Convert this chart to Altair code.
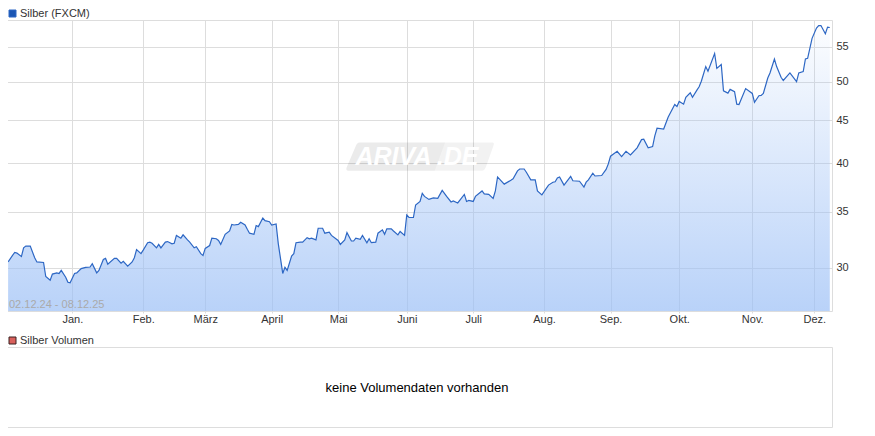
import json

import altair as alt
import pandas as pd

START_DATE = "2024-12-02"

# days since START_DATE and closing price
day_offsets = [
    0, 2, 3, 4, 6, 7, 8, 10, 12, 13, 16, 17, 19, 20, 22, 23, 24, 26, 27, 28,
    30, 31, 33, 35, 37, 38, 40, 41, 43, 44, 45, 48, 49, 51, 52, 54, 56, 57, 58, 60,
    61, 63, 64, 65, 67, 68, 69, 71, 72, 74, 75, 76, 78, 79, 81, 82, 84, 85, 87, 88,
    89, 91, 92, 94, 95, 96, 98, 100, 101, 102, 104, 105, 107, 108, 109, 111, 112, 113, 115, 116,
    118, 119, 121, 122, 124, 125, 126, 128, 129, 130, 132, 133, 135, 136, 137, 139, 140, 142, 143, 145,
    146, 149, 150, 152, 153, 155, 156, 157, 159, 160, 162, 163, 164, 166, 167, 169, 170, 171, 173, 174,
    176, 177, 179, 180, 181, 183, 184, 186, 187, 188, 190, 192, 194, 196, 198, 200, 201, 203, 206, 207,
    208, 210, 211, 214, 215, 217, 219, 220, 221, 224, 227, 228, 230, 231, 233, 234, 236, 238, 239, 241,
    244, 246, 247, 248, 249, 251, 254, 255, 258, 260, 261, 262, 264, 265, 268, 270, 271, 272, 275, 277,
    279, 281, 284, 286, 287, 289, 291, 292, 293, 296, 298, 301, 302, 303, 305, 306, 308, 309, 311, 312,
    313, 315, 316, 319, 320, 322, 323, 325, 326, 328, 329, 330, 333, 336, 337, 339, 340, 341, 343, 344,
    346, 347, 349, 350, 353, 356, 357, 359, 360, 361, 363, 365, 366, 367, 369, 370, 371,
]
prices = [
    30.5, 31.05, 31.3, 31.25, 30.95, 31.7, 31.85, 31.85, 30.85, 30.5, 30.45, 29.3, 29.0, 29.5, 29.6, 29.55, 29.8, 29.25, 28.85, 28.8,
    29.55, 29.6, 29.95, 30.05, 30.08, 30.35, 29.6, 29.8, 30.7, 30.8, 30.3, 30.8, 30.8, 30.4, 30.55, 30.15, 30.5, 30.85, 31.55, 31.2,
    31.5, 32.15, 32.2, 32.1, 31.7, 32.0, 31.7, 32.2, 32.25, 32.05, 32.1, 32.8, 32.55, 32.85, 32.4, 32.2, 31.7, 31.8, 31.2, 31.05,
    31.65, 31.9, 32.55, 32.5, 32.35, 32.0, 32.9, 33.2, 33.8, 33.75, 33.8, 34.0, 33.75, 33.35, 33.0, 32.9, 33.7, 33.6, 34.4, 34.15,
    34.05, 33.75, 33.85, 32.05, 29.55, 30.05, 29.8, 31.0, 31.2, 32.15, 32.2, 32.2, 32.6, 32.5, 32.55, 32.4, 33.45, 33.45, 33.0, 33.1,
    32.8, 32.35, 32.0, 32.4, 33.05, 32.3, 32.3, 32.55, 32.45, 32.8, 32.15, 32.5, 32.15, 32.2, 33.0, 33.3, 32.9, 33.4, 33.4, 33.2,
    32.85, 33.15, 32.8, 34.7, 34.45, 34.45, 35.65, 36.0, 36.8, 36.5, 36.2, 36.35, 36.3, 37.1, 36.5, 35.95, 36.05, 35.85, 36.7, 36.0,
    36.1, 36.0, 36.5, 37.05, 36.75, 36.7, 36.3, 37.05, 38.5, 37.75, 38.15, 38.3, 39.15, 39.35, 39.35, 39.0, 38.2, 38.2, 37.05, 36.65,
    37.65, 37.95, 38.0, 38.4, 38.5, 37.65, 38.55, 38.1, 38.05, 37.45, 37.95, 38.2, 38.9, 38.6, 38.65, 39.3, 39.9, 40.75, 41.3, 40.7,
    41.3, 40.9, 41.7, 42.65, 42.7, 41.7, 41.85, 43.1, 44.0, 43.9, 45.35, 46.95, 46.7, 47.35, 47.0, 47.9, 48.5, 47.9, 48.85, 49.3,
    50.05, 52.1, 51.45, 54.0, 51.85, 52.4, 48.75, 48.45, 48.95, 48.65, 47.0, 46.95, 49.05, 48.4, 47.25, 48.1, 48.15, 48.4, 50.5, 51.2,
    53.2, 52.1, 50.6, 50.15, 51.2, 50.0, 51.2, 51.4, 53.2, 53.3, 56.3, 57.9, 58.3, 58.3, 57.0, 58.05, 58.0,
]

# month grid lines sit on the first trading day the source plots for that month
month_ticks = [
    (2024, 12, 31), (2025, 2, 1), (2025, 3, 1), (2025, 3, 31), (2025, 4, 30), (2025, 5, 31),
    (2025, 6, 30), (2025, 8, 1), (2025, 8, 31), (2025, 10, 1), (2025, 11, 3), (2025, 12, 1),
]
month_labels = ["Jan.", "Feb.", "März", "April", "Mai", "Juni", "Juli", "Aug.", "Sep.", "Okt.", "Nov.", "Dez."]
price_ticks = [30, 35, 40, 45, 50, 55]

PRICE_SERIES = "Silber (FXCM)"
VOLUME_SERIES = "Silber Volumen"
RANGE_TEXT = "02.12.24 - 08.12.25"
NO_VOLUME_TEXT = "keine Volumendaten vorhanden"

FONT = "Liberation Sans"
GRID = "#dddddd"
LINE_BLUE = "#2d67c4"
AREA_BLUE = "155,191,246"

frame = pd.DataFrame({"day": day_offsets, "price": prices})
frame["date"] = pd.Timestamp(START_DATE) + pd.to_timedelta(frame["day"], unit="D")
frame["series"] = PRICE_SERIES

tick_keys = [f"{year}-{month:02d}-{day:02d}" for year, month, day in month_ticks]
label_expr = f"{json.dumps(dict(zip(tick_keys, month_labels)))}[timeFormat(datum.value, '%Y-%m-%d')]"

x_axis = alt.Axis(
    values=[alt.DateTime(year=y, month=m, date=d) for y, m, d in month_ticks],
    labelExpr=label_expr,
    title=None,
    grid=True,
    gridColor=GRID,
    domain=False,
    tickColor=GRID,
    tickSize=2,
    labelPadding=0,
    labelFont=FONT,
    labelFontSize=11,
    labelColor="#333333",
    labelFlush=False,
    labelOverlap=False,
)
y_axis = alt.Axis(
    orient="right",
    values=price_ticks,
    title=None,
    grid=True,
    gridColor=GRID,
    domain=False,
    ticks=False,
    labelPadding=4,
    labelFont=FONT,
    labelFontSize=11,
    labelColor="#333333",
)
x_enc = alt.X(
    "date:T",
    axis=x_axis,
    scale=alt.Scale(domain=[alt.DateTime(year=2024, month=12, date=1, hours=12), alt.DateTime(year=2025, month=12, date=9)]),
)
y_scale = alt.Scale(type="log", domain=[26.66, 59.2], nice=False)
y_enc = alt.Y("price:Q", axis=y_axis, scale=y_scale)

# a log scale has no zero, so the area needs its own baseline and no stacking
area = alt.Chart(frame).mark_area(
    color=alt.Gradient(
        gradient="linear",
        stops=[
            alt.GradientStop(color=f"rgba({AREA_BLUE},0.03)", offset=0),
            alt.GradientStop(color=f"rgba({AREA_BLUE},0.7)", offset=1),
        ],
        x1=1,
        x2=1,
        y1=0,
        y2=1,
    ),
).encode(x=x_enc, y=alt.Y("price:Q", axis=y_axis, scale=y_scale, stack=None), y2=alt.value(291))

line = alt.Chart(frame).mark_line(strokeWidth=1.2).encode(
    x=x_enc,
    y=y_enc,
    color=alt.Color(
        "series:N",
        scale=alt.Scale(domain=[PRICE_SERIES], range=[LINE_BLUE]),
        legend=alt.Legend(
            orient="none",
            legendX=0,
            legendY=-12,
            title=None,
            symbolType="square",
            symbolSize=49,
            symbolFillColor="#1a56b4",
            symbolStrokeColor="#13294f",
            symbolStrokeWidth=1,
            labelOffset=2,
            labelFont=FONT,
            labelFontSize=11,
            labelColor="#333333",
        ),
    ),
)

# ARIVA.DE watermark behind the line
logo_frame = pd.DataFrame({"date": [pd.Timestamp("2025-06-06")], "price": [40.7]})
logo_frame_ariva = pd.DataFrame({"date": [pd.Timestamp("2025-05-25")], "price": [40.7], "text": ["ARIVA"]})
logo_frame_de = pd.DataFrame({"date": [pd.Timestamp("2025-06-23")], "price": [40.7], "text": [".DE"]})
logo_left = alt.Chart(logo_frame).mark_point(
    shape="M-0.82,-0.19 L0.34,-0.19 L0.2,0.19 L-0.97,0.19 Q-1.01,0.19 -0.99,0.14 L-0.87,-0.14 Q-0.85,-0.19 -0.82,-0.19 Z",
    size=21904,
    filled=True,
    color="#000000",
    opacity=0.08,
).encode(x=x_enc, y=y_enc)
logo_right = alt.Chart(logo_frame).mark_point(
    shape="M0.34,-0.19 L0.98,-0.19 Q1.01,-0.19 0.99,-0.14 L0.89,0.14 Q0.87,0.19 0.84,0.19 L0.2,0.19 Z",
    size=21904,
    filled=True,
    color="#000000",
    opacity=0.05,
).encode(x=x_enc, y=y_enc)
logo_text = alt.layer(
    alt.Chart(logo_frame_ariva).mark_text(font=FONT, fontSize=25, fontWeight="bold", fontStyle="italic", color="#ffffff", baseline="middle").encode(x=x_enc, y=y_enc, text="text:N"),
    alt.Chart(logo_frame_de).mark_text(font=FONT, fontSize=25, fontWeight="bold", fontStyle="italic", color="#ffffff", baseline="middle").encode(x=x_enc, y=y_enc, text="text:N"),
)

range_label = alt.Chart(pd.DataFrame({"text": [RANGE_TEXT]})).mark_text(
    font=FONT, fontSize=11, color="#aaaaaa", align="left", baseline="middle",
).encode(x=alt.value(2), y=alt.value(285), text="text:N")

price_panel = alt.layer(logo_left, logo_right, logo_text, area, line, range_label).properties(width=825, height=291)

# no volume data in the source, so the bar layer stays empty
volume_frame = pd.DataFrame({"series": pd.Series([], dtype=str)})
volume_bars = alt.Chart(volume_frame).mark_bar().encode(
    color=alt.Color(
        "series:N",
        scale=alt.Scale(domain=[VOLUME_SERIES], range=["#d9605c"]),
        legend=alt.Legend(
            orient="none",
            legendX=0,
            legendY=-12,
            title=None,
            symbolType="square",
            symbolSize=49,
            symbolFillColor="#d9605c",
            symbolStrokeColor="#3a2020",
            symbolStrokeWidth=1,
            labelOffset=2,
            labelFont=FONT,
            labelFontSize=11,
            labelColor="#333333",
        ),
    ),
)
volume_note = alt.Chart(pd.DataFrame({"text": [NO_VOLUME_TEXT]})).mark_text(
    font=FONT, fontSize=13, color="#000000", align="center", baseline="middle",
).encode(x=alt.value(410), y=alt.value(41), text="text:N")
volume_panel = alt.layer(volume_bars, volume_note).properties(width=825, height=80)

chart = alt.vconcat(price_panel, volume_panel, spacing=9).resolve_scale(color="independent").properties(
    padding={"left": -3, "top": -1, "right": 0, "bottom": 0},
    background="#ffffff",
).configure_view(stroke=GRID)

chart.save("out.html", embed_options={"renderer": "svg", "actions": False})
